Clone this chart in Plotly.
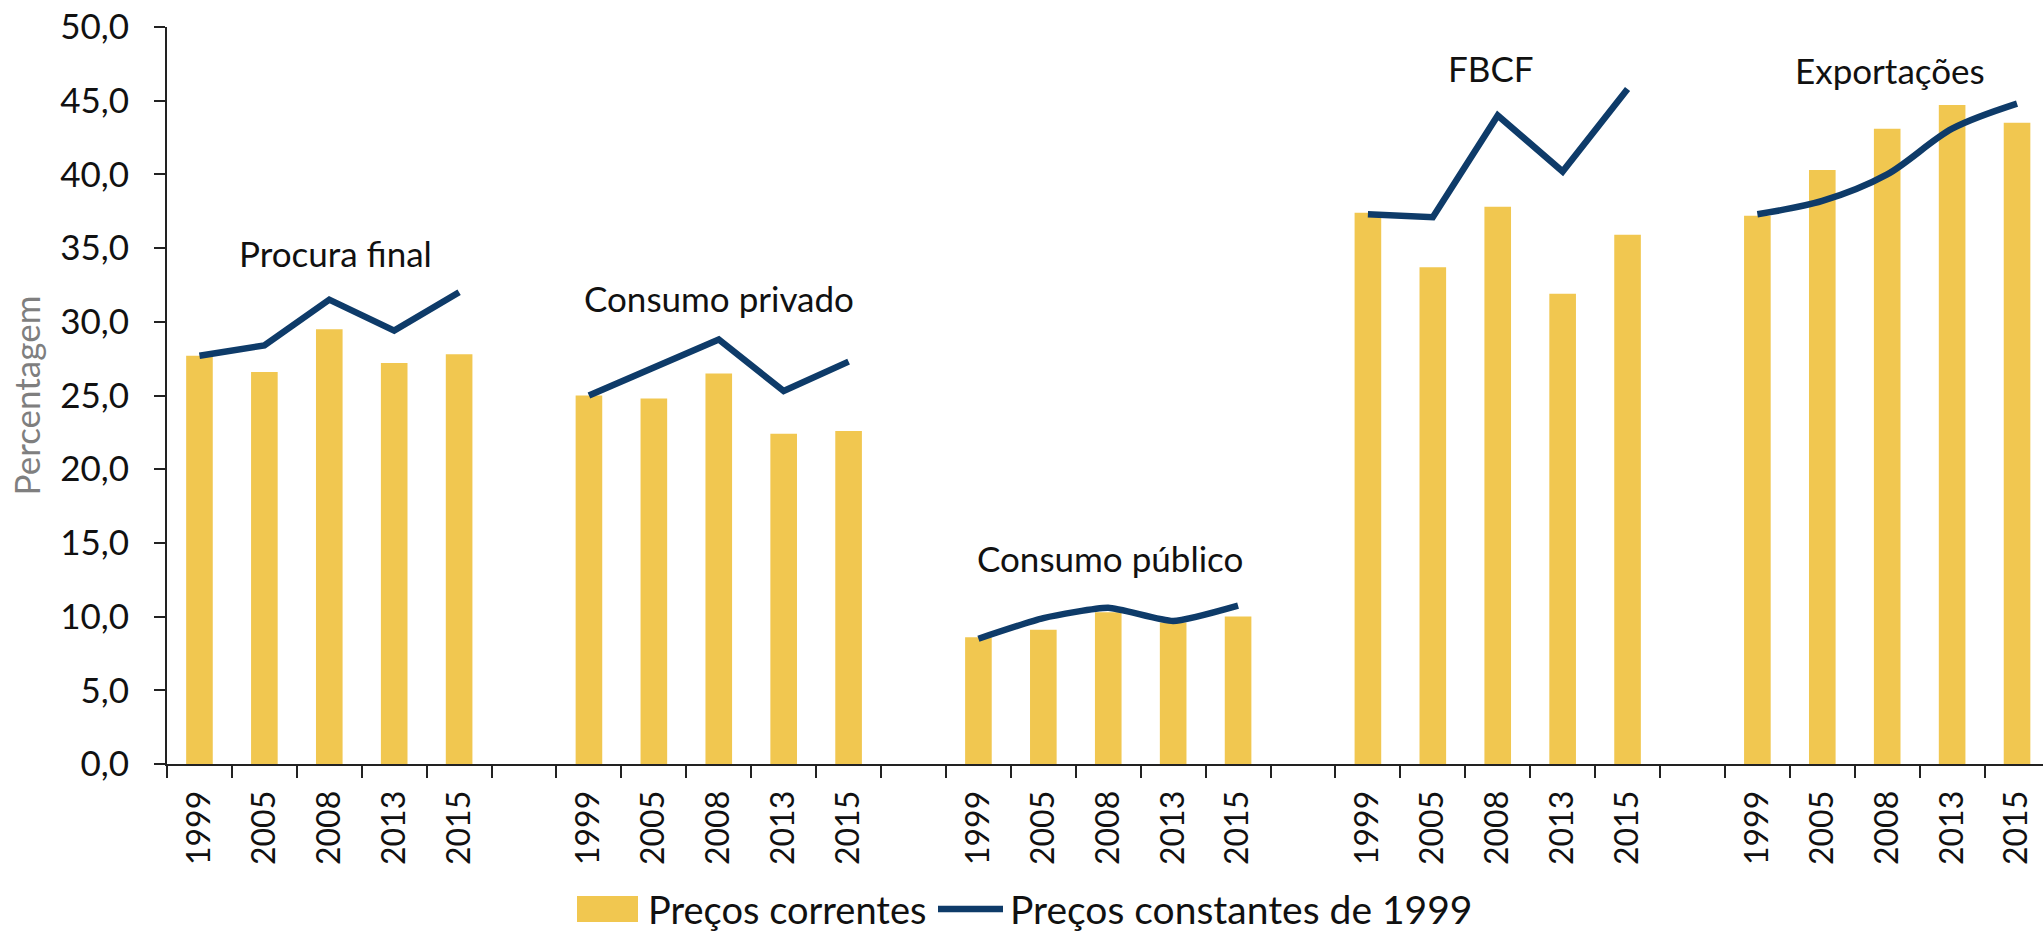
import plotly.graph_objects as go

# ---- data ----
groups = ["Procura final", "Consumo privado", "Consumo público", "FBCF", "Exportações"]
years = ["1999", "2005", "2008", "2013", "2015"]

procura_correntes = [27.7, 26.6, 29.5, 27.2, 27.8]
procura_constantes = [27.7, 28.4, 31.5, 29.4, 32.0]
privado_correntes = [25.0, 24.8, 26.5, 22.4, 22.6]
privado_constantes = [25.0, 26.9, 28.8, 25.3, 27.3]
publico_correntes = [8.6, 9.1, 10.3, 9.6, 10.0]
publico_constantes = [8.5, 9.9, 10.6, 9.7, 10.75]
fbcf_correntes = [37.4, 33.7, 37.8, 31.9, 35.9]
fbcf_constantes = [37.3, 37.1, 44.0, 40.2, 45.8]
export_correntes = [37.2, 40.3, 43.1, 44.7, 43.5]
export_constantes = [37.3, 38.2, 40.0, 43.1, 44.8]

correntes = [procura_correntes, privado_correntes, publico_correntes, fbcf_correntes, export_correntes]
constantes = [procura_constantes, privado_constantes, publico_constantes, fbcf_constantes, export_constantes]

tick_values = [0, 5, 10, 15, 20, 25, 30, 35, 40, 45, 50]
legend_names = ["Preços correntes", "Preços constantes de 1999"]

# ---- styles ----
BAR_COLOR = "#F1C750"
LINE_COLOR = "#0E3B69"
FONT = "Lato, 'Open Sans', sans-serif"
TEXT_COLOR = "#111111"
line_shapes = ["linear", "linear", "spline", "linear", "spline"]
line_smoothing = [0, 0, 0.5, 0, 0.9]

W, H = 2043, 932
ML, MR, MT, MB = 167, 0, 27, 168
PW, PH = W - ML - MR, H - MT - MB


def px_to_paper(px, py):
    return (px - ML) / PW, (H - MB - py) / PH


# category keys (unique) with a blank category between groups
cat_keys, cat_text = [], []
for gi, g in enumerate(groups):
    for y in years:
        cat_keys.append(f"{g}|{y}")
        cat_text.append(y)
    if gi < len(groups) - 1:
        cat_keys.append(f"gap{gi}")
        cat_text.append("")

fig = go.Figure()

bar_x, bar_y = [], []
for g, vals in zip(groups, correntes):
    bar_x += [f"{g}|{y}" for y in years]
    bar_y += vals

fig.add_trace(go.Bar(
    x=bar_x, y=bar_y, name=legend_names[0],
    marker=dict(color=BAR_COLOR, line=dict(width=0)),
    width=0.41, showlegend=False,
))

for gi, (g, vals) in enumerate(zip(groups, constantes)):
    kw = dict(color=LINE_COLOR, width=6.5, shape=line_shapes[gi])
    if line_shapes[gi] == "spline":
        kw["smoothing"] = line_smoothing[gi]
    fig.add_trace(go.Scatter(
        x=[f"{g}|{y}" for y in years], y=vals,
        mode="lines", name=legend_names[1],
        line=kw, showlegend=False,
    ))

# group labels
label_pos = [(2.09, 34.66), (8.0, 31.6), (14.02, 13.97), (19.9, 47.2), (26.05, 47.1)]
for g, (ax_, ay_) in zip(groups, label_pos):
    fig.add_annotation(x=ax_, y=ay_, xref="x", yref="y", text=g, showarrow=False,
                       font=dict(family=FONT, size=35, color=TEXT_COLOR),
                       xanchor="center", yanchor="middle")

# legend (drawn below the plot)
sx0, sy0 = px_to_paper(577, 922)
sx1, sy1 = px_to_paper(638, 896)
fig.add_shape(type="rect", xref="paper", yref="paper", x0=sx0, x1=sx1, y0=sy0, y1=sy1,
              fillcolor=BAR_COLOR, line=dict(width=0))
lx0, ly = px_to_paper(938, 909)
lx1, _ = px_to_paper(1003, 909)
fig.add_shape(type="line", xref="paper", yref="paper", x0=lx0, x1=lx1, y0=ly, y1=ly,
              line=dict(color=LINE_COLOR, width=6.5))
for name, px, fs in zip(legend_names, [646, 1008], [38, 39]):
    tx, ty = px_to_paper(px, 909)
    fig.add_annotation(x=tx, y=ty, xref="paper", yref="paper", text=name, showarrow=False,
                       font=dict(family=FONT, size=fs, color=TEXT_COLOR),
                       xanchor="left", yanchor="middle")

fig.update_layout(
    width=W, height=H,
    margin=dict(l=ML, r=MR, t=MT, b=MB, autoexpand=False),
    paper_bgcolor="white", plot_bgcolor="white",
    separators=",.",
    font=dict(family=FONT, size=35, color=TEXT_COLOR),
    showlegend=False,
)

fig.update_xaxes(
    type="category", categoryorder="array", categoryarray=cat_keys,
    tickmode="array", tickvals=cat_keys, ticktext=cat_text,
    tickson="boundaries", range=[-0.5, 28.4],
    showline=True, linecolor="#222222", linewidth=2,
    ticks="outside", ticklen=12, tickwidth=2, tickcolor="#222222",
    tickangle=-90, tickfont=dict(family=FONT, size=32, color=TEXT_COLOR),
    ticklabelstandoff=12,
    showgrid=False, zeroline=False, automargin=False,
)

fig.update_yaxes(
    range=[0, 50], tickmode="array", tickvals=tick_values, tickformat=".1f",
    showline=True, linecolor="#222222", linewidth=2,
    ticks="outside", ticklen=11, tickwidth=2, tickcolor="#222222",
    tickfont=dict(family=FONT, size=35, color=TEXT_COLOR),
    ticklabelstandoff=18,
    title=dict(text="Percentagem", font=dict(family=FONT, size=35, color="#7F7F7F"), standoff=9),
    showgrid=False, zeroline=False, automargin=False,
)

fig.write_html("out.html", config={"displayModeBar": False},
               post_script="document.body.style.margin='0';")
